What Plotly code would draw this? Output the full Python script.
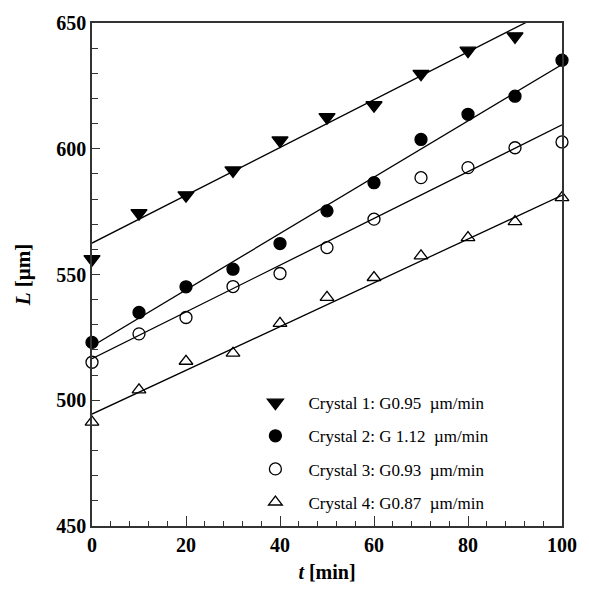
import plotly.graph_objects as go

t = [0, 10, 20, 30, 40, 50, 60, 70, 80, 90, 100]

crystal1 = [556.1, 574.4, 581.5, 591.4, 603.3, 612.6, 617.3, 629.8, 639.0, 644.7]
crystal2 = [523.0, 534.9, 545.1, 552.1, 562.3, 575.3, 586.5, 603.7, 613.7, 620.9, 635.2]
crystal3 = [515.1, 526.4, 532.9, 545.2, 550.4, 560.7, 572.0, 588.5, 592.5, 600.4, 602.7]
crystal4 = [491.3, 504.1, 515.5, 518.7, 530.6, 540.9, 548.8, 557.4, 564.7, 571.0, 580.6]

labels = ["Crystal 1: G0.95  \u00b5m/min", "Crystal 2: G 1.12  \u00b5m/min",
          "Crystal 3: G0.93  \u00b5m/min", "Crystal 4: G0.87  \u00b5m/min"]
fit_intercept = [562.5, 521.5, 516.5, 494.5]
fit_slope = [0.95, 1.12, 0.93, 0.87]
fit_t = [0, 100]

series = [crystal1, crystal2, crystal3, crystal4]
symbols = ["triangle-down", "circle", "circle-open", "triangle-up-open"]
sizes = [14, 12, 12, 12]

FONT = "Liberation Serif, Times New Roman, serif"

fig = go.Figure()
for i, (vals, lab) in enumerate(zip(series, labels)):
    fit_L = [fit_intercept[i] + fit_slope[i] * tt for tt in fit_t]
    fig.add_trace(go.Scatter(x=fit_t, y=fit_L, mode="lines",
                             line=dict(color="black", width=1.3),
                             showlegend=False, hoverinfo="skip"))
for i, (vals, lab) in enumerate(zip(series, labels)):
    fig.add_trace(go.Scatter(x=t[:len(vals)], y=vals, mode="markers", name=lab,
                             legendgroup=f"g{i}",
                             marker=dict(symbol=symbols[i], size=sizes[i], color="black",
                                         line=dict(color="black", width=1.3)),
                             cliponaxis=False))

fig.update_layout(
    width=589, height=594,
    margin=dict(l=92, r=19, t=22, b=68),
    plot_bgcolor="white", paper_bgcolor="white",
    font=dict(family=FONT, color="black"),
    showlegend=True,
    legend=dict(x=0.32, y=0.28, xanchor="left", yanchor="top",
                bgcolor="rgba(0,0,0,0)", font=dict(size=17, family=FONT),
                tracegroupgap=8, itemwidth=56),
    xaxis=dict(range=[0, 100], dtick=20, tick0=0, showgrid=False, zeroline=False,
               showline=True, linecolor="#333", linewidth=1.5, mirror=True,
               ticks="inside", ticklen=10, tickcolor="#333", tickwidth=1.3,
               minor=dict(dtick=4, ticks="inside", ticklen=5, tickcolor="#333", tickwidth=1.1),
               tickfont=dict(size=20, family=FONT),
               tickprefix="<b>", ticksuffix="</b>",
               title=dict(text="<b><i>t</i> [min]</b>", font=dict(size=20, family=FONT), standoff=10)),
    yaxis=dict(range=[450, 650], dtick=50, tick0=450, showgrid=False, zeroline=False,
               showline=True, linecolor="#333", linewidth=1.5, mirror=True,
               ticks="inside", ticklen=8, tickcolor="#333", tickwidth=1.3,
               minor=dict(dtick=10, ticks="inside", ticklen=6, tickcolor="#333", tickwidth=1.1),
               tickfont=dict(size=20, family=FONT),
               tickprefix="<b>", ticksuffix="</b>",
               title=dict(text="<b><i>L</i> [\u00b5m]</b>", font=dict(size=21, family=FONT), standoff=20)),
)

fig.write_html("out.html", config={"displayModeBar": False},
               post_script="document.body.style.margin='0';")
